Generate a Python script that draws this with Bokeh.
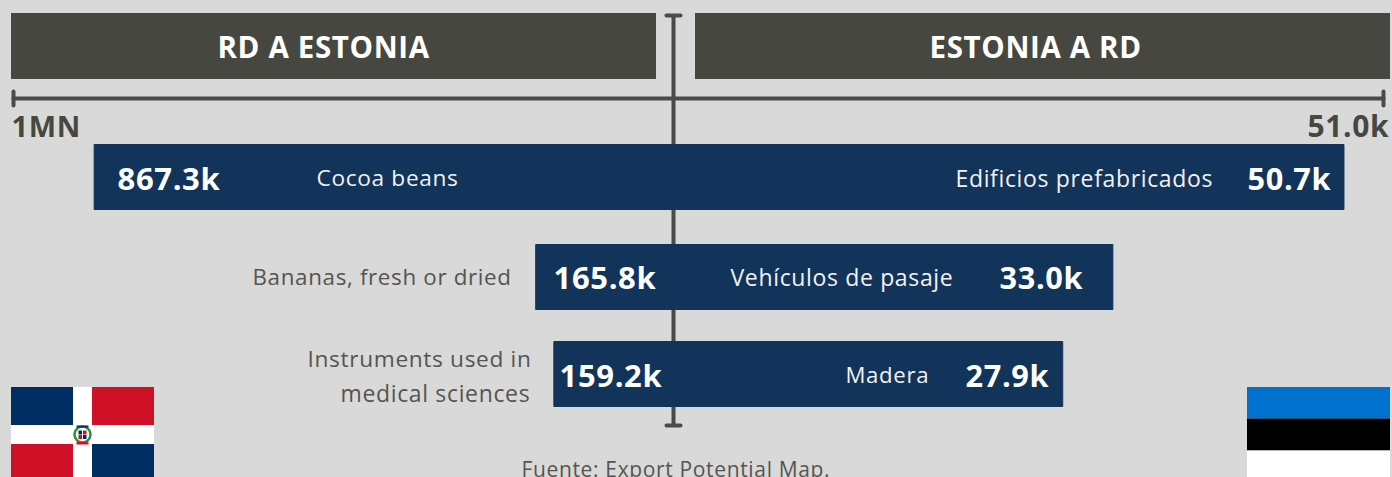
from bokeh.plotting import figure
from bokeh.embed import file_html
from bokeh.resources import INLINE
from bokeh.models import Range1d
from bokeh.core.properties import value

# ---------- data ----------
left_products = ["Cocoa beans", "Bananas, fresh or dried", "Instruments used in\nmedical sciences"]
left_labels = ["867.3k", "165.8k", "159.2k"]
left_bar_extent = [877.8, 208.8, 181.3]      # thousand USD
right_products = ["Edificios prefabricados", "Vehículos de pasaje", "Madera"]
right_labels = ["50.7k", "33.0k", "27.9k"]
right_bar_extent = [48.16, 31.56, 27.96]     # thousand USD
left_axis_max = 1000.0
right_axis_max = 51.0
left_axis_label = "1MN"
right_axis_label = "51.0k"
headers = ["RD A ESTONIA", "ESTONIA A RD"]
source_note = "Fuente: Export Potential Map."

# ---------- style ----------
W, H = 1392, 477
BG = "#d9d9d9"
HEAD = "#474741"
AXIS = "#4b4b46"
BAR = "#13345a"
GREY = "#55554f"
FONT = value("Open Sans")
CX = 673
L_PX = 660 / left_axis_max
R_PX = 710 / right_axis_max

p = figure(width=W, height=H, output_backend="svg", toolbar_location=None,
           x_range=Range1d(0, W), y_range=Range1d(H, 0), min_border=0,
           outline_line_color=None, background_fill_color=BG, border_fill_color=BG)
p.axis.visible = False
p.grid.visible = False
p.extra_x_ranges = {
    "left": Range1d(CX / L_PX, -(W - CX) / L_PX),
    "right": Range1d(-CX / R_PX, (W - CX) / R_PX),
}


def txt(x, y, s, size, color, bold=False):
    p.text([x], [y], text=[s], text_font=FONT, text_font_size=f"{size}px", text_color=color,
           text_align="left", text_baseline="middle",
           text_font_style="bold" if bold else "normal")


# header blocks
p.quad(left=[10.5, 694.5], right=[655.5, 1389.5], top=[12.5, 12.5], bottom=[78.5, 78.5], fill_color=HEAD, line_color=None)
txt(217, 46, headers[0], 29.5, "#ffffff", True)
txt(929, 46, headers[1], 29.5, "#ffffff", True)

# axes
axis_kw = dict(line_color=AXIS, line_width=4, line_cap="round")
p.segment(x0=[left_axis_max], x1=[0], y0=[98], y1=[98], x_range_name="left", **axis_kw)
p.segment(x0=[0], x1=[right_axis_max], y0=[98], y1=[98], x_range_name="right", **axis_kw)
p.segment(x0=[left_axis_max], x1=[left_axis_max], y0=[91], y1=[105], x_range_name="left", **axis_kw)
p.segment(x0=[right_axis_max], x1=[right_axis_max], y0=[91], y1=[105], x_range_name="right", **axis_kw)
p.segment(x0=[CX], x1=[CX], y0=[15], y1=[425], line_color=AXIS, line_width=4)
p.segment(x0=[666, 666], x1=[680, 680], y0=[15, 425], y1=[15, 425], **axis_kw)
txt(11, 125, left_axis_label, 29, HEAD, True)
txt(1307, 125, right_axis_label, 30, HEAD, True)

# bars
tops = [144, 244, 341]
bottoms = [209, 309, 406]
p.quad(left=left_bar_extent, right=[0, 0, 0], top=tops, bottom=bottoms, fill_color=BAR, line_color=BAR, line_width=1, x_range_name="left")
p.quad(left=[0, 0, 0], right=right_bar_extent, top=tops, bottom=bottoms, fill_color=BAR, line_color=BAR, line_width=1, x_range_name="right")

# bar labels
for x, y, i in [(117, 177, 0), (553, 276, 1), (559, 374, 2)]:
    txt(x, y, left_labels[i], 31, "#ffffff", True)
for x, y, i in [(1247, 177, 0), (999, 276, 1), (965, 374, 2)]:
    txt(x, y, right_labels[i], 30.7, "#ffffff", True)
txt(316, 177, left_products[0], 22.7, "#f2f2f2")
txt(252, 276, left_products[1], 22.4, GREY)
l1, l2 = left_products[2].split("\n")
txt(307, 358, l1, 22.7, GREY)
txt(340, 392, l2, 23, GREY)
txt(955, 177, right_products[0], 23, "#f2f2f2")
txt(730, 276, right_products[1], 23, "#f2f2f2")
txt(845, 374, right_products[2], 22.2, "#f2f2f2")
txt(521, 468, source_note, 21, GREY)

# Dominican Republic flag
p.quad(left=[10.5], right=[153.5], top=[386.5], bottom=[482], fill_color="#ffffff", line_color=None)
p.quad(left=[10.5, 91.5], right=[72.5, 153.5], top=[386.5, 443.5], bottom=[424.5, 482], fill_color="#002d62", line_color=None)
p.quad(left=[91.5, 10.5], right=[153.5, 72.5], top=[386.5, 443.5], bottom=[424.5, 482], fill_color="#ce1126", line_color=None)
p.scatter([82], [434], size=16, marker="circle", fill_color=None, line_color="#2f8f3a", line_width=2.5)
p.quad(left=[78, 82.5, 78, 82.5], right=[81.5, 86, 81.5, 86], top=[430, 430, 434.5, 434.5],
       bottom=[434, 434, 438.5, 438.5], fill_color=["#002d62", "#ce1126", "#ce1126", "#002d62"], line_color=None)
p.quad(left=[76, 76], right=[88, 88], top=[425, 441.5], bottom=[427, 444],
       fill_color=["#002d62", "#ce1126"], line_color=None)

# Estonia flag
p.quad(left=[1246.5] * 3, right=[1389.5] * 3, top=[386.5, 418, 450], bottom=[418, 450, 482],
       fill_color=["#0072ce", "#000000", "#ffffff"], line_color=None)

html = file_html(p, INLINE)
html = html.replace("<head>", f"<head><style>html,body{{background:{BG};margin:0;padding:0;overflow:hidden;letter-spacing:0.65px}}</style>", 1)
open("out.html", "w").write(html)
